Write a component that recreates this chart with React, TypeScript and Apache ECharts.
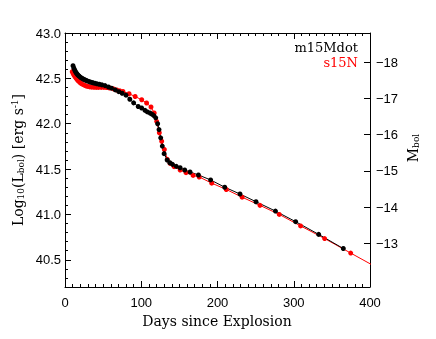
import React, { useEffect, useRef } from "react";
import * as echarts from "echarts";

const blackDays = [10.5, 11.5, 12.5, 13.5, 14.5, 15.5, 16.5, 17.5, 18.5, 20, 21.5, 23, 24.5, 26, 27.5, 29, 31, 33, 35, 37, 39.5, 42, 45, 48.5, 52.5, 57, 61, 66, 70.5, 75, 80, 85, 90, 96, 100.5, 105, 108, 111.5, 114, 116.5, 119, 121.5, 123.3, 125.5, 127.6, 130, 134, 137.5, 141, 146, 151, 157, 164, 175, 191, 209.5, 229.5, 250.5, 276, 302.5, 332.7, 365];
const blackLogL = [42.64, 42.615, 42.595, 42.578, 42.563, 42.552, 42.541, 42.532, 42.524, 42.514, 42.505, 42.497, 42.49, 42.484, 42.478, 42.473, 42.466, 42.46, 42.455, 42.45, 42.445, 42.44, 42.435, 42.428, 42.42, 42.405, 42.392, 42.373, 42.353, 42.336, 42.315, 42.27, 42.23, 42.19, 42.173, 42.147, 42.13, 42.118, 42.105, 42.09, 42.065, 42.0, 41.935, 41.844, 41.753, 41.67, 41.6, 41.57, 41.552, 41.53, 41.515, 41.49, 41.468, 41.435, 41.38, 41.3, 41.225, 41.14, 41.037, 40.92, 40.78, 40.624];

const redDays = [9.5, 10.5, 11.5, 12.5, 13.5, 14.5, 15.5, 16.5, 17.5, 19, 20.5, 22, 24, 26, 28, 30, 32.5, 35, 38, 41, 44, 47.5, 51, 54.5, 58.5, 63.5, 68, 72, 76, 84, 92, 100.6, 107, 112.8, 117, 120.2, 123.7, 126.8, 130.3, 134.2, 137.7, 143, 151, 158.7, 168, 176, 192.4, 211.5, 232.3, 255.7, 281, 309, 340.5, 374.7, 410];
const redLogL = [42.574, 42.555, 42.54, 42.527, 42.515, 42.503, 42.492, 42.482, 42.472, 42.46, 42.449, 42.44, 42.43, 42.422, 42.416, 42.411, 42.406, 42.403, 42.401, 42.4, 42.4, 42.4, 42.4, 42.399, 42.394, 42.384, 42.372, 42.362, 42.355, 42.33, 42.3, 42.264, 42.228, 42.184, 42.118, 42.026, 41.9, 41.807, 41.716, 41.607, 41.563, 41.527, 41.49, 41.46, 41.43, 41.413, 41.345, 41.275, 41.19, 41.1, 41.0, 40.873, 40.734, 40.574, 40.41];

const logLTicks = [40.5, 41.0, 41.5, 42.0, 42.5, 43.0];
const magTicks = [-18, -17, -16, -15, -14, -13];
const seriesNames = ["m15Mdot", "s15N"];

const SANS = "Liberation Sans, Arial, sans-serif";
const SERIF = "DejaVu Serif, serif";

export default function App() {
  const ref = useRef<HTMLDivElement>(null);
  useEffect(() => {
    const chart = echarts.init(ref.current!, null, { renderer: "svg" });
    const axisLine = { show: true, onZero: false, lineStyle: { color: "#000", width: 1 } };
    const xBase = {
      type: "value",
      min: 0,
      max: 400,
      interval: 100,
      axisLine,
      axisTick: { show: true, inside: true, length: 6, lineStyle: { color: "#000" } },
      minorTick: { show: true, splitNumber: 10, length: 3, lineStyle: { color: "#000" } },
      splitLine: { show: false },
    };
    chart.setOption({
      animation: false,
      grid: { left: 65, right: 66, top: 33, bottom: 52, show: false },
      xAxis: [
        {
          ...xBase,
          position: "bottom",
          axisLabel: { color: "#000", fontFamily: SANS, fontSize: 13, margin: 9 },
        },
        { ...xBase, position: "top", axisLabel: { show: false } },
      ],
      yAxis: [
        {
          type: "value",
          min: 40.2,
          max: 43,
          position: "left",
          axisLine,
          axisTick: { show: true, inside: true, length: 6, customValues: logLTicks, lineStyle: { color: "#000" } },
          axisLabel: {
            customValues: logLTicks,
            formatter: (v: number) => v.toFixed(1),
            color: "#000",
            fontFamily: SANS,
            fontSize: 13,
            margin: 4,
          },
          splitLine: { show: false },
        },
        {
          type: "value",
          min: -18.8,
          max: -11.8,
          inverse: true,
          position: "right",
          axisLine,
          axisTick: { show: true, inside: true, length: 6, customValues: magTicks, lineStyle: { color: "#000" } },
          axisLabel: {
            customValues: magTicks,
            formatter: (v: number) => "\u2212" + Math.abs(v),
            color: "#000",
            fontFamily: SANS,
            fontSize: 13,
            margin: 6,
          },
          splitLine: { show: false },
        },
        {
          type: "value",
          min: 40.2,
          max: 43,
          interval: 0.1,
          position: "left",
          axisLine: { show: false },
          axisTick: { show: true, inside: true, length: 3, lineStyle: { color: "#000" } },
          axisLabel: { show: false },
          splitLine: { show: false },
        },
      ],
      series: [
        {
          name: seriesNames[1],
          type: "line",
          xAxisIndex: 0,
          yAxisIndex: 0,
          data: redDays.map((d, i) => [d, redLogL[i]]),
          symbol: "circle",
          symbolSize: 5,
          showSymbol: true,
          showAllSymbol: true,
          clip: true,
          itemStyle: { color: "#ff0000" },
          lineStyle: { color: "#ff0000", width: 1 },
          silent: true,
        },
        {
          name: seriesNames[0],
          type: "line",
          xAxisIndex: 0,
          yAxisIndex: 0,
          data: blackDays.map((d, i) => [d, blackLogL[i]]),
          symbol: "circle",
          symbolSize: 5,
          showSymbol: true,
          showAllSymbol: true,
          clip: true,
          itemStyle: { color: "#000" },
          lineStyle: { color: "#000", width: 1 },
          silent: true,
        },
      ],
      graphic: [
        {
          type: "text",
          x: 358,
          y: 47,
          style: { text: seriesNames[0], fill: "#000", font: `13px ${SERIF}`, align: "right", verticalAlign: "middle" },
        },
        {
          type: "text",
          x: 358,
          y: 62,
          style: { text: seriesNames[1], fill: "#ff0000", font: `13px ${SERIF}`, align: "right", verticalAlign: "middle" },
        },
        {
          type: "text",
          x: 217,
          y: 321,
          style: { text: "Days since Explosion", fill: "#000", font: `14px ${SERIF}`, align: "center", verticalAlign: "middle" },
        },
        {
          type: "text",
          x: 18,
          y: 160,
          rotation: Math.PI / 2,
          style: {
            text: "Log{sub|10}(L{sub|bol}) [erg s{sup|-1}]",
            fill: "#000",
            fontFamily: SERIF,
            fontSize: 14,
            align: "center",
            verticalAlign: "middle",
            rich: {
              sub: { fontFamily: SERIF, fontSize: 9, verticalAlign: "bottom", padding: [6, 0, 0, 0] },
              sup: { fontFamily: SERIF, fontSize: 9, verticalAlign: "top", padding: [0, 0, 6, 0] },
            },
          },
        },
        {
          type: "text",
          x: 413,
          y: 148,
          rotation: Math.PI / 2,
          style: {
            text: "M{sub|bol}",
            fill: "#000",
            fontFamily: SERIF,
            fontSize: 14,
            align: "center",
            verticalAlign: "middle",
            rich: {
              sub: { fontFamily: SERIF, fontSize: 9, verticalAlign: "bottom", padding: [6, 0, 0, 0] },
            },
          },
        },
      ],
    });
    return () => chart.dispose();
  }, []);
  return <div ref={ref} style={{ position: "fixed", left: 0, top: 0, width: 436, height: 339 }} />;
}
